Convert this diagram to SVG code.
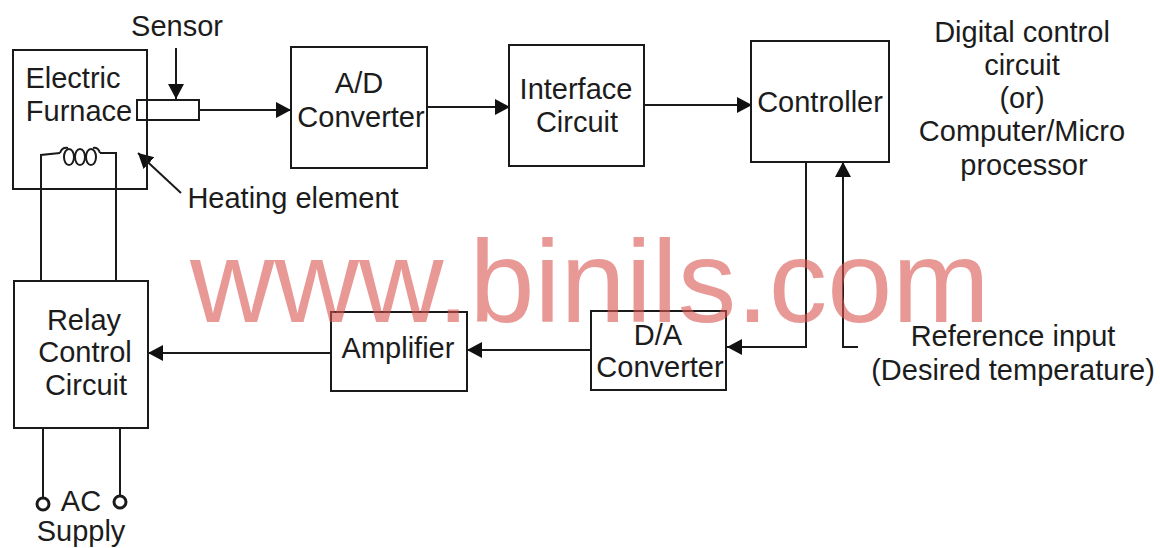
<svg xmlns="http://www.w3.org/2000/svg" width="1160" height="548" viewBox="0 0 1160 548">
<style>
.b{fill:none;stroke:#1a1a1a;stroke-width:2}
.c{fill:none;stroke:#1a1a1a;stroke-width:2}
.t{font-family:"Liberation Sans",Arial,sans-serif;font-size:29px;fill:#1c1c1c;text-anchor:middle}
.w{font-family:"Liberation Sans",Arial,sans-serif;font-size:117px;fill:#d9534f;fill-opacity:.6;text-anchor:start}
</style>
<defs>
<marker id="a" markerUnits="userSpaceOnUse" markerWidth="18" markerHeight="18" refX="15" refY="9" orient="auto"><path d="M0 1L15 9L0 17Z" fill="#111"/></marker>
</defs>
<rect width="1160" height="548" fill="#fff"/>
<g id="connectors">
<path class="c" marker-end="url(#a)" d="M176 48V99"/>
<path class="c" marker-end="url(#a)" d="M200 110H291"/>
<path class="c" marker-end="url(#a)" d="M181 193L138 153"/>
<path class="c" marker-end="url(#a)" d="M428 107H510"/>
<path class="c" marker-end="url(#a)" d="M645 105H752"/>
<path class="c" marker-end="url(#a)" d="M806 163V347H727"/>
<path class="c" marker-end="url(#a)" d="M858 347H843V162"/>
<path class="c" marker-end="url(#a)" d="M591 350H467"/>
<path class="c" marker-end="url(#a)" d="M330 353H148"/>
<path class="c" d="M41 280V155L60 153M100 153H116V280"/>
<path class="c" d="M60 153q2-6 8-5M100 153q-2-6-7-5"/>
<g class="c"><ellipse cx="69" cy="157" rx="5" ry="8"/><ellipse cx="80" cy="157" rx="5" ry="8"/><ellipse cx="91" cy="157" rx="5" ry="8"/></g>
<path class="c" d="M43 428V498M120 428V496"/>
</g>
<g id="furnace"><rect class="b" x="13" y="50" width="134" height="139"/><text class="t" x="73" y="88">Electric</text><text class="t" x="79" y="121">Furnace</text></g>
<g id="sensor"><rect class="b" x="137" y="100" width="62" height="20" fill="#fff"/><text class="t" x="177" y="36">Sensor</text></g>
<text class="t" x="293" y="208">Heating element</text>
<g id="adc"><rect class="b" x="291" y="47" width="136" height="121"/><text class="t" x="359" y="93">A/D</text><text class="t" x="361" y="127">Converter</text></g>
<g id="interface"><rect class="b" x="509" y="45" width="135" height="121"/><text class="t" x="576" y="99">Interface</text><text class="t" x="577" y="132">Circuit</text></g>
<g id="controller"><rect class="b" x="751" y="41" width="138" height="121"/><text class="t" x="820" y="112">Controller</text></g>
<g id="note"><text class="t" x="1022" y="42">Digital control</text><text class="t" x="1022" y="75">circuit</text><text class="t" x="1022" y="108">(or)</text><text class="t" x="1022" y="141">Computer/Micro</text><text class="t" x="1024" y="175">processor</text></g>
<g id="relay"><rect class="b" x="14" y="281" width="134" height="147"/><text class="t" x="84" y="330">Relay</text><text class="t" x="85" y="362">Control</text><text class="t" x="86" y="395">Circuit</text></g>
<g id="amplifier"><rect class="b" x="331" y="312" width="136" height="79"/><text class="t" x="398" y="358">Amplifier</text></g>
<g id="dac"><rect class="b" x="591" y="311" width="135" height="79"/><text class="t" x="658" y="345">D/A</text><text class="t" x="660" y="377">Converter</text></g>
<g id="ref"><text class="t" x="1013" y="346">Reference input</text><text class="t" x="1013" y="380">(Desired temperature)</text></g>
<g id="ac"><circle cx="43" cy="504" r="6" fill="#fff" stroke="#1a1a1a" stroke-width="3"/><circle cx="120" cy="502" r="6" fill="#fff" stroke="#1a1a1a" stroke-width="3"/><text class="t" x="81" y="511">AC</text><text class="t" x="81" y="541">Supply</text></g>
<text class="w" x="190" y="322">www.binils.com</text>
</svg>
